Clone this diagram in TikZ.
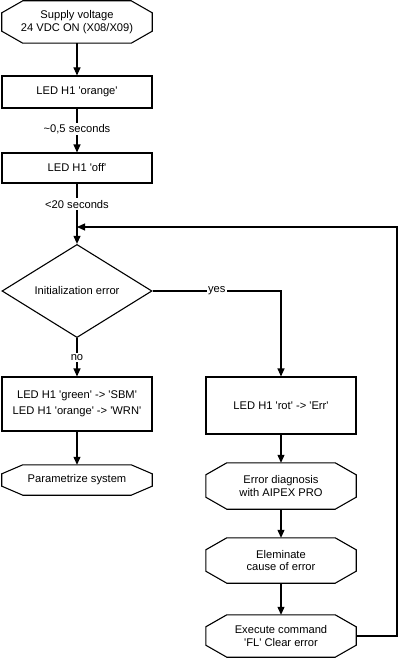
\documentclass[tikz,border=0pt]{standalone}
\usepackage{fontspec}
\setmainfont{Liberation Sans}[Ligatures=TeXOff]
\usetikzlibrary{shapes.geometric,arrows.meta}
\tikzset{
    flow/.style={line width=1.1bp, -{Triangle[length=8bp,width=7bp]}},
    stepbox/.style={draw, line width=1.1bp, rectangle, minimum width=150bp, inner sep=0pt, align=center},
    termbox/.style={rectangle, inner sep=0pt, minimum width=150bp, align=center},
    lbl/.style={fill=white, inner sep=1.5bp}
}
\begin{document}
\begin{tikzpicture}[x=1bp, y=-1bp, font=\fontsize{11.2}{13}\selectfont]
    \useasboundingbox (0,0) rectangle (400,658);
    % Left column
    \node[termbox, minimum height=42bp] (supply) at (77,22) {Supply voltage\\24 VDC ON (X08/X09)};
    \node[stepbox, minimum height=32bp] (orange) at (77,92) {LED H1 'orange'};
    \node[stepbox, minimum height=30bp] (off) at (77,168) {LED H1 'off'};
    \node[draw, line width=1.1bp, diamond, inner sep=0pt, minimum width=150bp, minimum height=86bp] (initerr) at (77,291) {Initialization error};
    \node[stepbox, minimum height=54bp] (green) at (77,404) {LED H1 'green' -> 'SBM'\\[3bp]LED H1 'orange' -> 'WRN'};
    \node[termbox, minimum height=30bp] (param) at (77,480) {Parametrize system};
    % Right column
    \node[stepbox, minimum height=57bp] (rot) at (281,405.5) {LED H1 'rot' -> 'Err'};
    \node[termbox, minimum height=46bp] (diag) at (281,486) {Error diagnosis\\with AIPEX PRO};
    \node[termbox, minimum height=45bp] (elim) at (281,560.5) {Eleminate\\cause of error};
    \node[termbox, minimum height=42bp] (exec) at (281,636) {Execute command\\'FL' Clear error};
    % Octagon outlines
    \foreach \n/\cy in {supply/12, param/9, diag/12, elim/12, exec/12}
    {
    \draw[line width=1.1bp]
        ([xshift=21bp]\n.north west) -- ([xshift=-21bp]\n.north east)
        -- ([yshift=-\cy bp]\n.north east) -- ([yshift=\cy bp]\n.south east)
        -- ([xshift=-21bp]\n.south east) -- ([xshift=21bp]\n.south west)
        -- ([yshift=\cy bp]\n.south west) -- ([yshift=-\cy bp]\n.north west) -- cycle;
    }
    % Loop points
    \coordinate (join) at (77,227);
    \coordinate (loop) at (397,227);
    % Connectors
    \draw[flow] (supply) -- (orange);
    \draw[flow] (orange) -- node[lbl, pos=0.47] {\textasciitilde0,5 seconds} (off);
    \draw[flow] (off) -- node[lbl, pos=0.34] {<20 seconds} (initerr);
    \draw[flow] (initerr.south) -- node[lbl] {no} (green);
    \draw[flow] (green) -- (param);
    \draw[flow] (initerr.east) -| node[lbl, pos=0.25] {yes} (rot.north);
    \draw[flow] (rot) -- (diag);
    \draw[flow] (diag) -- (elim);
    \draw[flow] (elim) -- (exec);
    \draw[flow] (exec.east) -| (loop) -- (join);
\end{tikzpicture}
\end{document}
